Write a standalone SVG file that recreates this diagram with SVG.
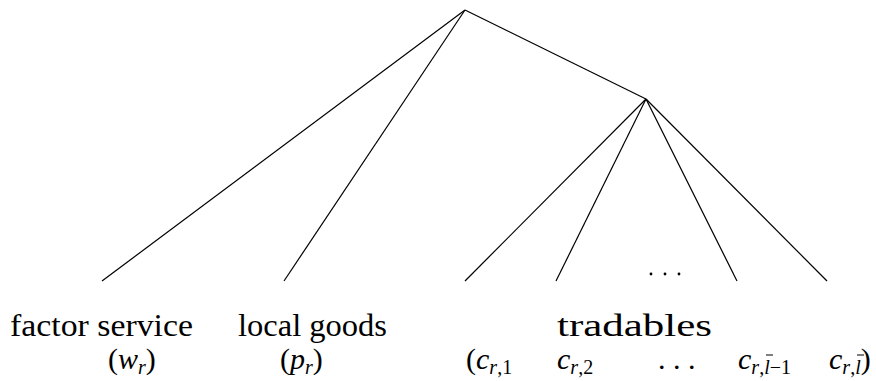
<svg xmlns="http://www.w3.org/2000/svg" width="876" height="381" viewBox="0 0 876 381">
<style>
.e{stroke:#000;stroke-width:1.2;fill:none}
.t{font-size:31px}
.m{font-size:30px}
.i{font-style:italic}
.s{font-size:20px}
.b{stroke:#000;stroke-width:1}
</style>
<rect width="876" height="381" fill="#fff"/>
<g id="connectors">
<line class="e" x1="465" y1="10" x2="102" y2="281"/>
<line class="e" x1="465" y1="10" x2="284" y2="281"/>
<line class="e" x1="465" y1="10" x2="646" y2="99"/>
<line class="e" x1="646" y1="99" x2="465" y2="281"/>
<line class="e" x1="646" y1="99" x2="556" y2="281"/>
<line class="e" x1="646" y1="99" x2="737" y2="281"/>
<line class="e" x1="646" y1="99" x2="827" y2="281"/>
</g>
<g id="dots">
<circle cx="651" cy="274" r="1.4"/>
<circle cx="665" cy="274" r="1.4"/>
<circle cx="679" cy="274" r="1.4"/>
</g>
<g font-family="'Liberation Serif', 'DejaVu Serif', 'Times New Roman', serif" fill="#000">
<g id="factor">
<text class="t" x="10" y="336" textLength="183" lengthAdjust="spacingAndGlyphs">factor service</text>
<text class="m" x="108" y="369">(<tspan class="i">w</tspan><tspan class="i s" dy="5">r</tspan><tspan dy="-5">)</tspan></text>
</g>
<g id="local">
<text class="t" x="238" y="336" textLength="149" lengthAdjust="spacingAndGlyphs">local goods</text>
<text class="m" x="280" y="369">(<tspan class="i">p</tspan><tspan class="i s" dy="5">r</tspan><tspan dy="-5">)</tspan></text>
</g>
<g id="tradables">
<text class="t" x="557" y="336" textLength="155" lengthAdjust="spacingAndGlyphs">tradables</text>
<text class="m" x="466" y="369">(<tspan class="i">c</tspan><tspan class="s" dy="5"><tspan class="i">r</tspan>,1</tspan></text>
<text class="m" x="557" y="369"><tspan class="i">c</tspan><tspan class="s" dy="5"><tspan class="i">r</tspan>,2</tspan></text>
<text class="m" x="658" y="369">. . .</text>
<text class="m" x="738" y="369"><tspan class="i">c</tspan><tspan class="s" dy="5"><tspan class="i">r</tspan>,<tspan class="i">l</tspan>−1</tspan></text>
<text class="m" x="829" y="369"><tspan class="i">c</tspan><tspan class="s" dy="5"><tspan class="i">r</tspan>,<tspan class="i">l</tspan></tspan><tspan dy="-5">)</tspan></text>
</g>
</g>
<line class="b" x1="766" y1="355" x2="773" y2="355"/>
<line class="b" x1="857" y1="355" x2="864" y2="355"/>
</svg>
